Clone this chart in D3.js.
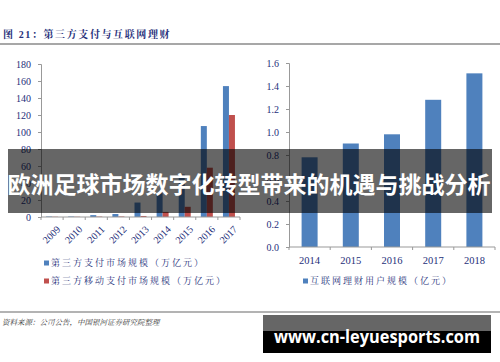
<!DOCTYPE html>
<html>
<head>
<meta charset="utf-8">
<script src="https://cdn.jsdelivr.net/npm/d3@7"></script>
<style>
  body { margin: 0; background: #fff; }
  svg { display: block; }
</style>
</head>
<body>
<svg id="chart" width="500" height="362"></svg>
<script>
// left chart data
var years = ["2009", "2010", "2011", "2012", "2013", "2014", "2015", "2016", "2017"];
var payScale = [0.6, 0.6, 2.2, 3.5, 17, 28, 50, 107, 154];
var mobileScale = [0.3, 0.3, 0.5, 0.6, 1.2, 6, 12, 58, 120];
var leftTicks = [0, 20, 40, 60, 80, 100, 120, 140, 160, 180];

// right chart data
var yearsR = ["2014", "2015", "2016", "2017", "2018"];
var wealthUsers = [0.78, 0.90, 0.98, 1.28, 1.51];
var rightTicks = [0, 0.2, 0.4, 0.6, 0.8, 1.0, 1.2, 1.4, 1.6];

var blue = "#4f81bd", red = "#c0504d", navy = "#262f7a";
var serif = "'Liberation Serif', 'Noto Serif CJK SC', 'Noto Sans CJK SC', serif";

var svg = d3.select("#chart");

// header
svg.append("text")
    .attr("x", 3).attr("y", 38)
    .attr("font-family", serif)
    .attr("font-size", 10).attr("font-weight", "bold")
    .attr("letter-spacing", 1.6)
    .attr("fill", navy)
    .text("图 21：第三方支付与互联网理财");

svg.append("line")
    .attr("x1", 0).attr("x2", 500).attr("y1", 44).attr("y2", 44)
    .attr("stroke", "#8a8a8a").attr("stroke-width", 1.5);

// ---- left chart
var L = {left: 41, right: 240, top: 64, bottom: 217};
var xL = d3.scaleBand().domain(years).range([L.left, L.right]);
var yL = d3.scaleLinear().domain([0, 180]).range([L.bottom, L.top]);
var bw = 6;

var gL = svg.append("g");
gL.append("g")
    .attr("transform", "translate(" + L.left + ",0)")
    .call(d3.axisLeft(yL).tickValues(leftTicks).tickSize(3).tickPadding(7))
    .call(styleAxis);

gL.selectAll("rect.pay")
    .data(years)
    .enter().append("rect")
    .attr("class", "pay")
    .attr("x", function (d) { return xL(d) + xL.bandwidth() / 2 - bw; })
    .attr("y", function (d, i) { return yL(payScale[i]); })
    .attr("width", bw)
    .attr("height", function (d, i) { return yL(0) - yL(payScale[i]); })
    .attr("fill", blue);

gL.selectAll("rect.mob")
    .data(years)
    .enter().append("rect")
    .attr("class", "mob")
    .attr("x", function (d) { return xL(d) + xL.bandwidth() / 2; })
    .attr("y", function (d, i) { return yL(mobileScale[i]); })
    .attr("width", bw)
    .attr("height", function (d, i) { return yL(0) - yL(mobileScale[i]); })
    .attr("fill", red);

// x axis with ticks on band edges
var xAxisL = gL.append("g").attr("transform", "translate(0," + L.bottom + ")");
xAxisL.append("line")
    .attr("x1", L.left).attr("x2", L.right)
    .attr("stroke", "#999");
xAxisL.selectAll("line.tk")
    .data(years.concat(["end"]))
    .enter().append("line")
    .attr("class", "tk")
    .attr("x1", function (d, i) { return L.left + i * xL.bandwidth(); })
    .attr("x2", function (d, i) { return L.left + i * xL.bandwidth(); })
    .attr("y1", 0).attr("y2", 3)
    .attr("stroke", "#999");
xAxisL.selectAll("text")
    .data(years)
    .enter().append("text")
    .attr("transform", function (d) {
        return "translate(" + (xL(d) + xL.bandwidth() / 2 + 4) + ",8) rotate(-45)";
    })
    .attr("text-anchor", "end")
    .attr("dy", "0.7em")
    .attr("font-family", serif)
    .attr("font-size", 10)
    .attr("fill", navy)
    .text(function (d) { return d; });

// ---- right chart
var R = {left: 289, right: 495, top: 63, bottom: 247};
var xR = d3.scaleBand().domain(yearsR).range([R.left, R.right]);
var yR = d3.scaleLinear().domain([0, 1.6]).range([R.bottom, R.top]);

var gR = svg.append("g");
gR.append("g")
    .attr("transform", "translate(" + R.left + ",0)")
    .call(d3.axisLeft(yR).tickValues(rightTicks).tickFormat(d3.format(".1f")).tickSize(3).tickPadding(7))
    .call(styleAxis);

gR.selectAll("rect")
    .data(yearsR)
    .enter().append("rect")
    .attr("x", function (d) { return xR(d) + xR.bandwidth() / 2 - 8; })
    .attr("y", function (d, i) { return yR(wealthUsers[i]); })
    .attr("width", 16)
    .attr("height", function (d, i) { return yR(0) - yR(wealthUsers[i]); })
    .attr("fill", blue);

var xAxisR = gR.append("g").attr("transform", "translate(0," + R.bottom + ")");
xAxisR.append("line")
    .attr("x1", R.left).attr("x2", R.right)
    .attr("stroke", "#999");
xAxisR.selectAll("line.tk")
    .data(yearsR.concat(["end"]))
    .enter().append("line")
    .attr("class", "tk")
    .attr("x1", function (d, i) { return R.left + i * xR.bandwidth(); })
    .attr("x2", function (d, i) { return R.left + i * xR.bandwidth(); })
    .attr("y1", 0).attr("y2", 3)
    .attr("stroke", "#999");
xAxisR.selectAll("text")
    .data(yearsR)
    .enter().append("text")
    .attr("x", function (d) { return xR(d) + xR.bandwidth() / 2; })
    .attr("y", 17)
    .attr("text-anchor", "middle")
    .attr("font-family", serif)
    .attr("font-size", 10.5)
    .attr("fill", navy)
    .text(function (d) { return d; });

function styleAxis(g) {
    g.select(".domain").attr("stroke", "#999");
    g.selectAll(".tick line").attr("stroke", "#999");
    g.selectAll(".tick text")
        .attr("font-family", serif)
        .attr("font-size", 10)
        .attr("fill", navy);
}

// legends
var legendL = [
    {label: "第三方支付市场规模（万亿元）", color: blue, x: 44, y: 266},
    {label: "第三方移动支付市场规模（万亿元）", color: red, x: 44, y: 284},
    {label: "互联网理财用户规模（亿元）", color: blue, x: 303, y: 284}
];
var lg = svg.selectAll("g.legend")
    .data(legendL)
    .enter().append("g")
    .attr("class", "legend")
    .attr("transform", function (d) { return "translate(" + d.x + "," + d.y + ")"; });
lg.append("rect")
    .attr("x", 0).attr("y", -5.5)
    .attr("width", 5).attr("height", 5)
    .attr("fill", function (d) { return d.color; });
lg.append("text")
    .attr("x", 7).attr("y", 0)
    .attr("font-family", serif)
    .attr("font-size", 9)
    .attr("letter-spacing", 2)
    .attr("fill", navy)
    .text(function (d) { return d.label; });

// footer
svg.append("line")
    .attr("x1", 0).attr("x2", 500).attr("y1", 312).attr("y2", 312)
    .attr("stroke", "#9a9a9a").attr("stroke-width", 1.5);
svg.append("text")
    .attr("x", 2).attr("y", 325)
    .attr("font-family", serif)
    .attr("font-size", 7.5)
    .attr("font-style", "italic")
    .attr("fill", "#333")
    .text("资料来源：公司公告，中国银河证券研究院整理");

// overlay banner
svg.append("rect")
    .attr("x", 8).attr("y", 149)
    .attr("width", 484).attr("height", 64)
    .attr("fill", "#000").attr("fill-opacity", 0.6);
svg.append("text")
    .attr("x", 249).attr("y", 193)
    .attr("text-anchor", "middle")
    .attr("font-family", "'Noto Sans CJK SC', sans-serif")
    .attr("font-size", 23)
    .attr("font-weight", "bold")
    .attr("fill", "#fff")
    .text("欧洲足球市场数字化转型带来的机遇与挑战分析");

// watermark box
svg.append("rect")
    .attr("x", 263).attr("y", 315)
    .attr("width", 228).attr("height", 38)
    .attr("fill", "#000");
svg.append("rect")
    .attr("x", 263).attr("y", 315)
    .attr("width", 228).attr("height", 16)
    .attr("fill", "#666");
svg.append("text")
    .attr("x", 274).attr("y", 343)
    .attr("font-family", "'Open Sans', 'DejaVu Sans', sans-serif")
    .attr("font-size", 17)
    .attr("font-weight", "bold")
    .attr("textLength", 206)
    .attr("lengthAdjust", "spacingAndGlyphs")
    .attr("fill", "#fff")
    .text("www.cn-leyuesports.com");
</script>
</body>
</html>
